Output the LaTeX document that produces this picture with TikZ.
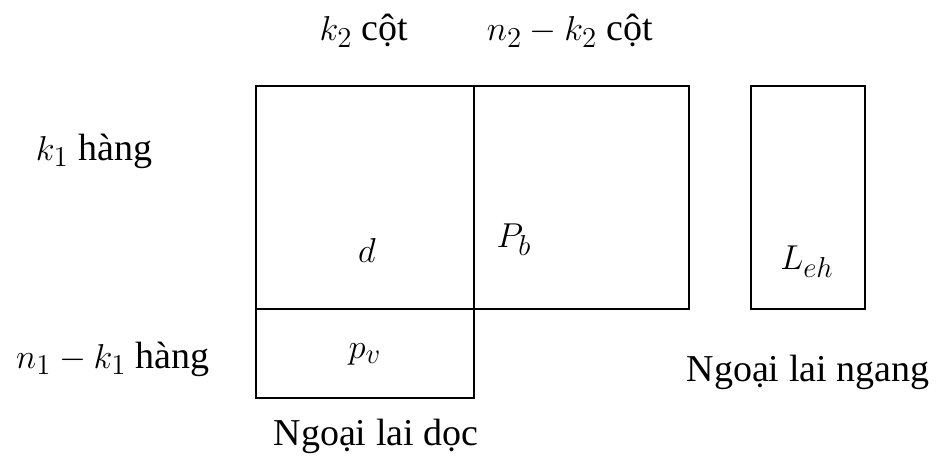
\documentclass[tikz,border=0pt]{standalone}
\usepackage{fontspec}
\setmainfont{Liberation Serif}
\usetikzlibrary{positioning}

\begin{document}
\begin{tikzpicture}[
    x=0.5pt, y=-0.5pt,
    cell/.style={rectangle, draw, line width=1pt, inner sep=0pt, outer sep=0pt},
    txt/.style={font=\fontsize{19}{23}\selectfont, inner sep=0pt}
]
\useasboundingbox (0,0) rectangle (937,464);

% Blocks
\node[cell, minimum width=109pt, minimum height=111.5pt, anchor=north west] (d) at (256,86) {};
\node[cell, minimum width=107.5pt, minimum height=111.5pt, anchor=north west] (pb) at (d.north east) {};
\node[cell, minimum width=109pt, minimum height=44.5pt, anchor=north west] (pv) at (d.south west) {};
\node[cell, minimum width=57pt, minimum height=111.5pt, anchor=north west] (leh) at (751,86) {};

% Labels inside
\node[txt] (dlab) at (367,251) {$d$};
\node[txt] (pblab) at (514,240) {$P_b$};
\node[txt] (pvlab) at (365,354) {$p_v$};
\node[txt] (lehlab) at (807,262) {$L_{eh}$};

% Columns and rows
\node[txt] (col1) at (364,31) {$k_2$ cột};
\node[txt] (col2) at (570,31) {$n_2-k_2$ cột};
\node[txt] (row1) at (94,151) {$k_1$ hàng};
\node[txt] (row2) at (113,359) {$n_1-k_1$ hàng};

% Captions
\node[txt] (capv) at (376,436) {Ngoại lai dọc};
\node[txt] (caph) at (808,372) {Ngoại lai ngang};

\end{tikzpicture}
\end{document}
